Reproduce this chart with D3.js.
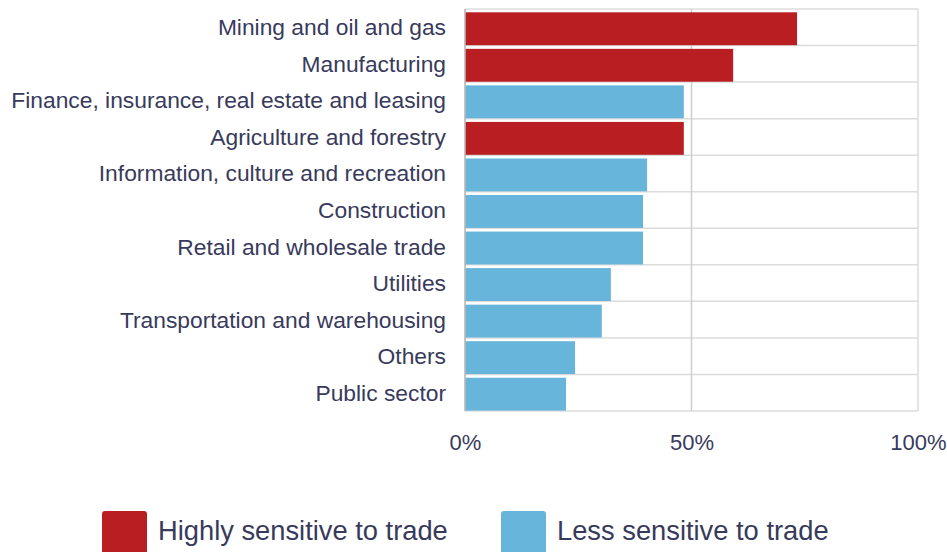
<!DOCTYPE html>
<html>
<head>
<meta charset="utf-8">
<script src="https://cdn.jsdelivr.net/npm/d3@7/dist/d3.min.js"></script>
<style>
  html, body { margin: 0; padding: 0; background: #fff; }
  svg { display: block; }
  text { font-family: "Liberation Sans", Arial, sans-serif; fill: #383a5c; }
</style>
</head>
<body>
<svg id="chart" width="947" height="552"></svg>
<script>
// Share of sector output by industry, grouped by sensitivity to trade
const sectors = [
  "Mining and oil and gas",
  "Manufacturing",
  "Finance, insurance, real estate and leasing",
  "Agriculture and forestry",
  "Information, culture and recreation",
  "Construction",
  "Retail and wholesale trade",
  "Utilities",
  "Transportation and warehousing",
  "Others",
  "Public sector"
];
const shares = [73.3, 59.2, 48.3, 48.3, 40.2, 39.3, 39.3, 32.2, 30.2, 24.3, 22.3];
const sensitivity = ["high", "high", "low", "high", "low", "low", "low", "low", "low", "low", "low"];
const groupKeys = ["high", "low"];
const groupLabels = ["Highly sensitive to trade", "Less sensitive to trade"];
const xTicks = [0, 50, 100];

const svg = d3.select("#chart");
const plotLeft = 465, plotRight = 918, plotTop = 9, plotBottom = 411;

const x = d3.scaleLinear().domain([0, 100]).range([plotLeft, plotRight]);
const y = d3.scaleBand().domain(sectors).range([plotTop, plotBottom]).padding(0);
const color = d3.scaleOrdinal().domain(groupKeys).range(["#b91f22", "#67b5db"]);
const step = y.step();

// horizontal separators between rows
const rowLines = [plotTop].concat(sectors.map(s => y(s) + step));
svg.append("g").selectAll("line").data(rowLines).join("line")
  .attr("x1", plotLeft).attr("x2", plotRight)
  .attr("y1", d => d).attr("y2", d => d)
  .attr("stroke", "#dcdcdc").attr("stroke-width", 1.5);

// vertical gridlines
svg.append("g").selectAll("line").data(xTicks.slice(1)).join("line")
  .attr("x1", d => x(d)).attr("x2", d => x(d))
  .attr("y1", plotTop).attr("y2", plotBottom)
  .attr("stroke", d => d === 100 ? "#dcdcdc" : "#cdcdcd").attr("stroke-width", 1.5);

// bars
svg.append("g").selectAll("rect").data(sectors).join("rect")
  .attr("x", x(0) + 0.5)
  .attr("y", d => y(d) + step * 0.09)
  .attr("width", (d, i) => x(shares[i]) - x(0) - 0.5)
  .attr("height", step * 0.9)
  .attr("fill", (d, i) => color(sensitivity[i]));

// left axis line
svg.append("line")
  .attr("x1", plotLeft).attr("x2", plotLeft).attr("y1", plotTop).attr("y2", plotBottom)
  .attr("stroke", "#a0a0a0").attr("stroke-width", 1.2);

// category labels
svg.append("g").selectAll("text").data(sectors).join("text")
  .attr("x", 446)
  .attr("y", d => y(d) + step / 2)
  .attr("dy", "0.35em")
  .attr("text-anchor", "end")
  .style("font-size", "22.8px")
  .text(d => d);

// x tick labels
const xAxis = svg.append("g")
  .attr("transform", `translate(0,${plotBottom})`)
  .call(d3.axisBottom(x).tickValues(xTicks).tickFormat(d => d + "%").tickSize(0).tickPadding(0));
xAxis.select(".domain").remove();
xAxis.selectAll("text")
  .attr("y", 39)
  .attr("dy", 0)
  .style("font-size", "22px")
  .style("font-family", "'Liberation Sans', Arial, sans-serif")
  .attr("fill", "#383a5c");

// legend
const legendX = [102, 501];
const legend = svg.append("g").selectAll("g").data(groupKeys).join("g")
  .attr("transform", (d, i) => `translate(${legendX[i]},511)`);
legend.append("rect")
  .attr("width", 45).attr("height", 45).attr("rx", 3)
  .attr("fill", d => color(d));
legend.append("text")
  .attr("x", 56).attr("y", 29)
  .style("font-size", "27.3px")
  .text((d, i) => groupLabels[i]);
</script>
</body>
</html>
